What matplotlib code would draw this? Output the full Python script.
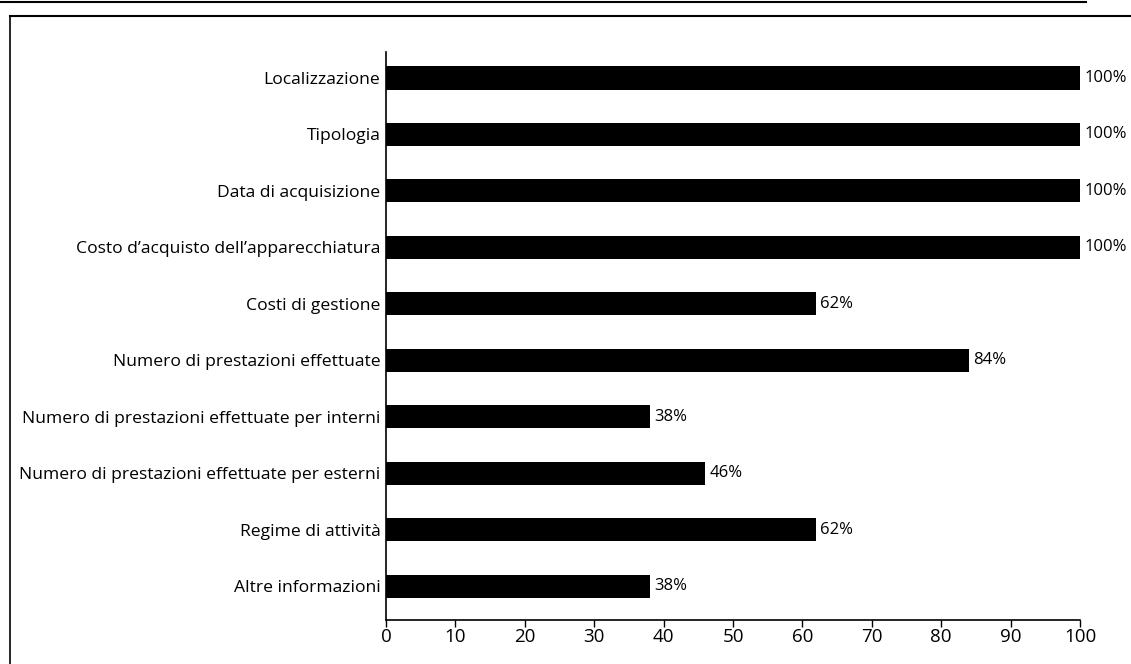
import matplotlib
matplotlib.use('Agg')
import matplotlib.pyplot as plt
from matplotlib.lines import Line2D

plt.rcParams['font.family'] = ['Open Sans', 'DejaVu Sans']

CATEGORIES = [
    'Localizzazione',
    'Tipologia',
    'Data di acquisizione',
    'Costo d\u2019acquisto dell\u2019apparecchiatura',
    'Costi di gestione',
    'Numero di prestazioni effettuate',
    'Numero di prestazioni effettuate per interni',
    'Numero di prestazioni effettuate per esterni',
    'Regime di attivit\u00e0',
    'Altre informazioni',
]
VALUES = [100, 100, 100, 100, 62, 84, 38, 46, 62, 38]
X_TICKS = [0, 10, 20, 30, 40, 50, 60, 70, 80, 90, 100]

W, H = 1131, 664
fig = plt.figure(figsize=(W / 100, H / 100), dpi=100)

# page frame lines (scanned page look)
fig.add_artist(Line2D([0, 0.96], [1 - 1.5 / H, 1 - 1.5 / H], color='black', lw=1.5))
fig.add_artist(Line2D([10 / W, 1], [1 - 16 / H, 1 - 16 / H], color='black', lw=1.5))
fig.add_artist(Line2D([10 / W, 10 / W], [0, 1 - 16 / H], color='black', lw=1.2))

ax = fig.add_axes([386 / W, 1 - 620 / H, (1080 - 386) / W, (620 - 52) / H])

y = list(range(len(CATEGORIES)))
ax.barh(y, VALUES, height=0.41, color='black')
for yi, v in zip(y, VALUES):
    ax.annotate(f'{v}%', (v, yi), xytext=(3, 0), textcoords='offset points',
                va='center', ha='left', fontsize=12)

ax.set_yticks(y)
ax.set_yticklabels(CATEGORIES, fontsize=12.6)
ax.set_ylim(9.6, -0.46)
ax.set_xlim(0, 100)
ax.set_xticks(X_TICKS)
ax.set_xticklabels([str(t) for t in X_TICKS], fontsize=13.5)
ax.tick_params(axis='y', length=0, pad=4)
ax.tick_params(axis='x', length=5, width=1, pad=1, direction='out')

for side in ['top', 'right']:
    ax.spines[side].set_visible(False)
for side in ['left', 'bottom']:
    ax.spines[side].set_linewidth(1.2)

fig.savefig('out.png', dpi=100)
